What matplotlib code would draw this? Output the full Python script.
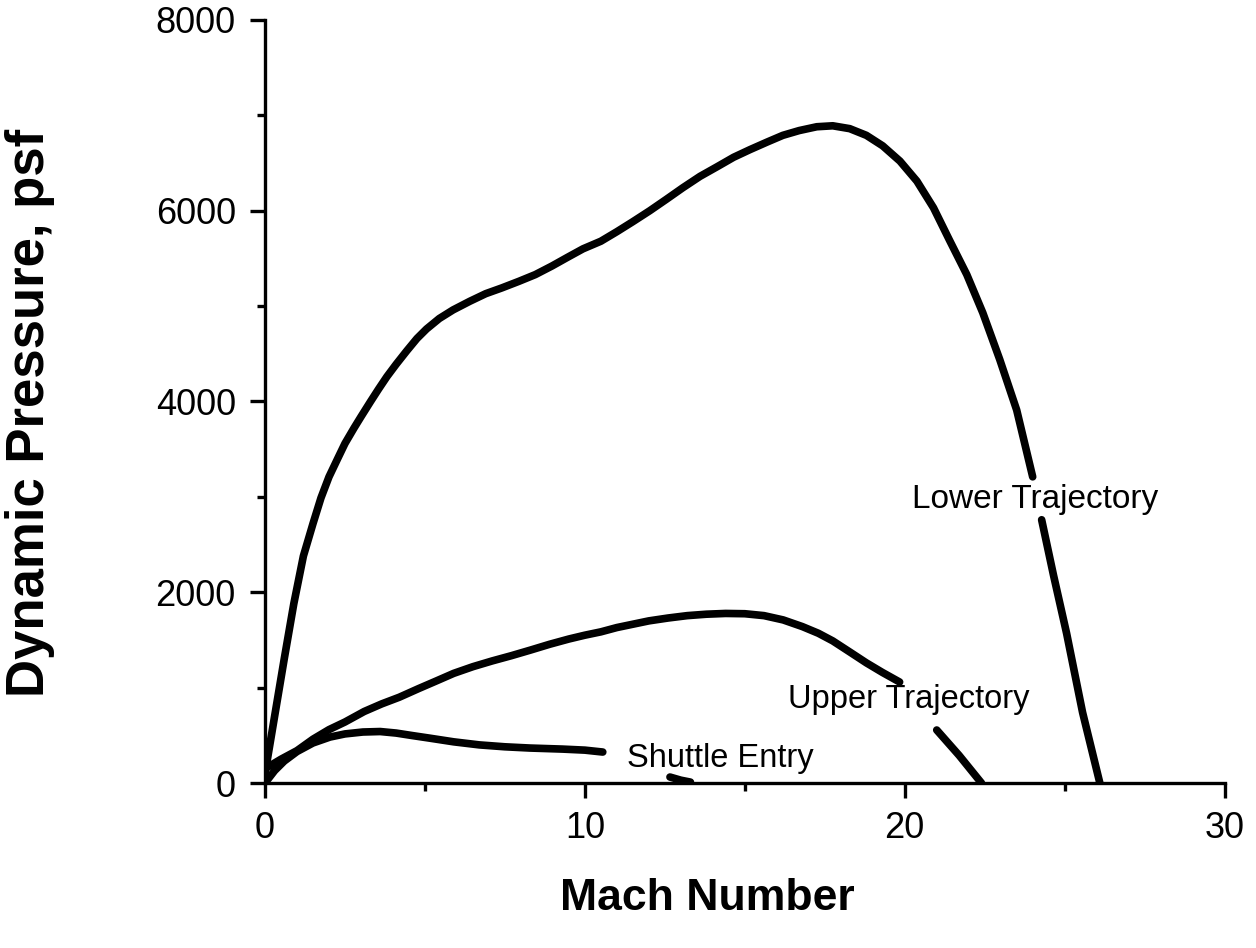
import numpy as np
import matplotlib
matplotlib.use("Agg")
import matplotlib.pyplot as plt
from matplotlib.ticker import MultipleLocator

plt.rcParams['font.family'] = ['Liberation Sans', 'DejaVu Sans']

nan = np.nan

# Lower trajectory (nan = gap where the label sits)
lower_mach = [0, 0.3, 0.6, 0.9, 1.2, 1.5, 1.75, 2.0, 2.27, 2.5, 2.78,
              3.0, 3.3, 3.55, 3.81, 4.1, 4.43, 4.75, 5.05, 5.45, 5.88, 6.4,
              6.9, 7.4, 7.94, 8.45, 8.97, 9.45, 9.94, 10.5, 11.0, 11.5, 12.03,
              12.55, 13.06, 13.6, 14.13, 14.65, 15.16, 15.7, 16.19, 16.7,
              17.25, 17.75, 18.28, 18.8, 19.31, 19.85, 20.38, 20.9, 21.4,
              21.94, 22.44, 22.97, 23.5, 24.0,
              nan, 24.28, 24.65, 25.06, 25.56, 26.1]
lower_q = [100, 700, 1300, 1880, 2380, 2720, 2990, 3210, 3400, 3560, 3720,
           3840, 4000, 4130, 4260, 4390, 4530, 4660, 4760, 4870, 4960, 5050,
           5130, 5190, 5260, 5330, 5420, 5510, 5600, 5680, 5780, 5885, 6000,
           6120, 6240, 6360, 6460, 6560, 6640, 6720, 6790, 6840,
           6880, 6890, 6860, 6790, 6680, 6520, 6310, 6030, 5690,
           5330, 4930, 4440, 3910, 3210,
           nan, 2760, 2180, 1570, 740, 0]

# Upper trajectory
upper_mach = [0, 0.5, 1.0, 1.5, 2.0, 2.5, 3.1, 3.65, 4.2, 4.8, 5.36, 5.9, 6.5,
              7.1, 7.7, 8.3, 8.9, 9.5, 10.0, 10.5, 11.0, 11.5, 12.0, 12.6,
              13.2, 13.8, 14.4, 15.0, 15.6, 16.2, 16.8, 17.3, 17.75, 18.3,
              18.8, 19.3, 19.84,
              nan, 21.0, 21.7, 22.4]
upper_q = [150, 250, 340, 460, 560, 640, 750, 830, 900, 990, 1071, 1150, 1220,
           1280, 1335, 1394, 1455, 1510, 1550, 1585, 1630, 1665, 1700, 1730,
           1755, 1770, 1778, 1775, 1755, 1710, 1640, 1570, 1490, 1370,
           1260, 1160, 1059,
           nan, 556, 290, 0]

# Shuttle entry
shuttle_mach = [0, 0.3, 0.6, 1.0, 1.5, 2.03, 2.5, 3.06, 3.6, 4.1, 4.6, 5.16,
                5.9, 6.7, 7.5, 8.28, 9.3, 10.0, 10.56,
                nan, 12.66, 13.0, 13.3]
shuttle_q = [0, 130, 230, 330, 420, 482, 515, 535, 540, 524, 498, 470,
             432, 400, 380, 367, 356, 345, 325,
             nan, 63, 30, 10]

fig = plt.figure(figsize=(12.56, 9.48), dpi=100)
ax = fig.add_axes([0.211, 0.174, 0.764, 0.805])

line_kw = dict(color='black', linewidth=5.5, solid_capstyle='round',
               solid_joinstyle='round')
ax.plot(lower_mach, lower_q, **line_kw)
ax.plot(upper_mach, upper_q, **line_kw)
ax.plot(shuttle_mach, shuttle_q, **line_kw)

# curve labels
ax.text(20.22, 2883, "Lower Trajectory", fontsize=24, ha='left', va='baseline')
ax.text(16.34, 786, "Upper Trajectory", fontsize=23.5, ha='left', va='baseline')
ax.text(11.31, 168, "Shuttle Entry", fontsize=23.5, ha='left', va='baseline')

ax.set_xlim(0, 30)
ax.set_ylim(0, 8000)
ax.xaxis.set_major_locator(MultipleLocator(10))
ax.xaxis.set_minor_locator(MultipleLocator(5))
ax.yaxis.set_major_locator(MultipleLocator(2000))
ax.yaxis.set_minor_locator(MultipleLocator(1000))

for side in ['top', 'right']:
    ax.spines[side].set_visible(False)
for side in ['left', 'bottom']:
    ax.spines[side].set_linewidth(2.4)

ax.tick_params(which='major', direction='out', length=11, width=2.4,
               labelsize=26)
ax.tick_params(which='minor', direction='out', length=6, width=2.4)
ax.tick_params(axis='x', which='major', pad=9)
ax.tick_params(axis='y', which='major', pad=10)

ax.set_xlabel("Mach Number", fontsize=32, fontweight='bold')
ax.set_ylabel("Dynamic Pressure, psf", fontsize=38, fontweight='bold')
ax.xaxis.set_label_coords(0.461, -0.125)
ax.yaxis.set_label_coords(-0.219, 0.485)

fig.savefig("out.png", dpi=100)
